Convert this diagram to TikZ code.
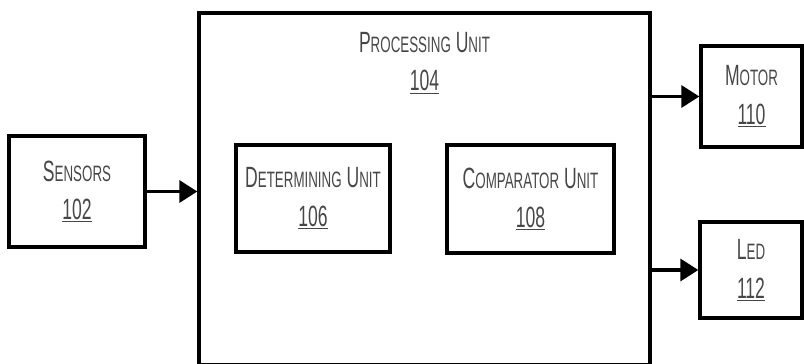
\documentclass[tikz,border=0pt]{standalone}
\usepackage{fontspec}
\setmainfont[FakeStretch=0.6]{Liberation Sans}
\usetikzlibrary{arrows.meta}

% small letters of the fake small caps
\newcommand{\lc}[1]{{\fontsize{19pt}{33pt}\selectfont #1}}

\begin{document}
\begin{tikzpicture}[x=0.3mm,y=-0.3mm,
		blk/.style={draw,line width=2.8pt,inner sep=0pt,align=center,text=black!72,
			font=\fontsize{25pt}{33pt}\selectfont},
		conn/.style={line width=2.8pt,-{Triangle[length=5.4mm,width=6.6mm]}}]
		\useasboundingbox (0,0) rectangle (804,364);
		\node[blk,minimum width=40.8mm,minimum height=33.3mm] (sensors) at (77,191.5) {S\lc{ENSORS}\\\underline{102}};
		\node[blk,minimum width=135.3mm,minimum height=105.6mm,
			label={[name=proctitle,blk,draw=none,anchor=north,yshift=-5.7mm]north:P\lc{ROCESSING} U\lc{NIT}\\\underline{104}}] (proc) at (424.5,189) {};
		\node[blk,minimum width=46.2mm,minimum height=32.1mm] (determ) at (313,198.5) {D\lc{ETERMINING} U\lc{NIT}\\\underline{106}};
		\node[blk,minimum width=50.1mm,minimum height=32.4mm] (compar) at (530.5,199) {C\lc{OMPARATOR} U\lc{NIT}\\\underline{108}};
		\node[blk,minimum width=30.3mm,minimum height=30.3mm] (motor) at (751.5,96.5) {M\lc{OTOR}\\\underline{110}};
		\node[blk,minimum width=30.6mm,minimum height=28.8mm] (led) at (751,270) {L\lc{ED}\\\underline{112}};
		\draw[conn] (sensors.east) -- (sensors.east -| proc.west);
		\draw[conn] (proc.east |- motor.west) -- (motor.west);
		\draw[conn] (proc.east |- led.west) -- (led.west);
	\end{tikzpicture}
\end{document}
